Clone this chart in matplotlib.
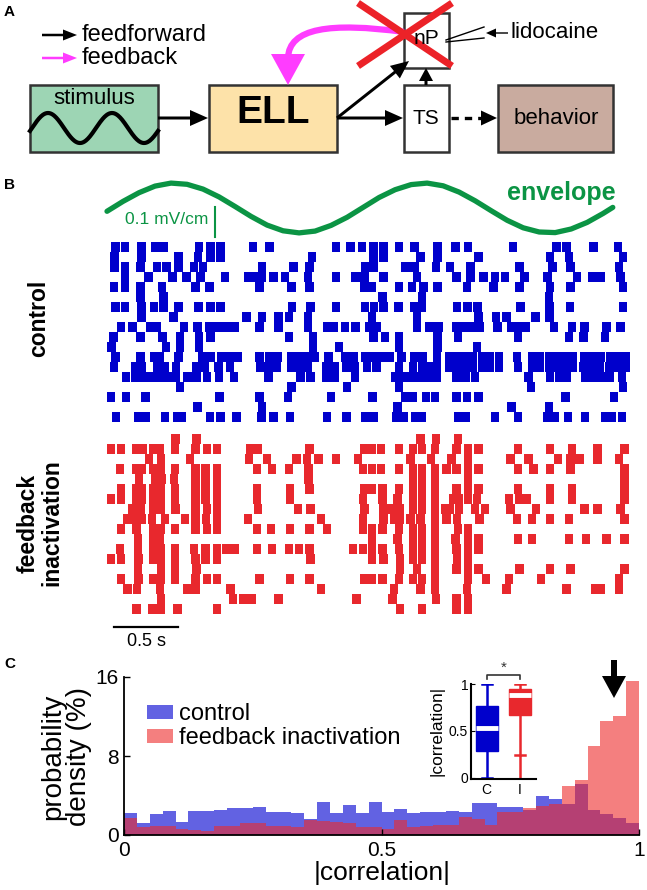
import matplotlib
matplotlib.use("Agg")
import matplotlib.pyplot as plt
from matplotlib.patches import Rectangle, FancyArrow, PathPatch
from matplotlib.path import Path
import numpy as np

plt.rcParams['font.family'] = ['Liberation Sans', 'DejaVu Sans']

# ---------------- data ----------------
# Panel B: spike times (s) per trial row
control_spikes = [
    [0.065, 0.14, 0.27, 0.38, 0.445, 0.72, 0.81, 0.885, 1.14, 1.27, 1.79, 1.90, 1.99, 2.08, 2.16, 2.28, 2.40, 2.58, 2.72, 2.82, 3.17, 3.51, 3.59, 3.80, 3.99],
    [0.057, 0.27, 0.56, 0.71, 0.81, 0.885, 1.60, 2.08, 2.16, 2.45, 2.58, 2.90, 3.46, 3.61, 4.03],
    [0.06, 0.14, 0.26, 0.39, 0.465, 0.56, 0.68, 0.75, 1.21, 1.455, 1.58, 2.02, 2.085, 2.33, 2.40, 2.57, 2.68, 2.84, 3.22, 3.48, 3.62, 4.00],
    [0.14, 0.325, 0.51, 0.62, 0.73, 0.92, 1.10, 1.15, 1.21, 1.30, 1.39, 1.57, 1.79, 1.94, 2.01, 2.16, 2.42, 2.73, 2.84, 2.94, 3.03, 3.11, 3.26, 3.44, 3.67, 3.79, 3.86, 4.01],
    [0.055, 0.14, 0.26, 0.43, 0.69, 0.80, 1.19, 1.44, 1.58, 2.01, 2.07, 2.28, 2.38, 2.47, 2.58, 2.81, 3.02, 3.22, 3.46, 3.62, 4.03],
    [0.26, 0.44, 2.15, 2.46, 3.45],
    [0.065, 0.14, 0.27, 0.365, 0.44, 0.56, 0.715, 0.81, 0.885, 1.445, 1.59, 1.79, 2.015, 2.085, 2.16, 2.275, 2.40, 2.46, 2.735, 2.815, 2.895, 3.23, 3.455, 3.615, 4.03],
    [0.27, 0.52, 1.09, 1.21, 1.34, 1.42, 1.57, 2.07, 2.42, 2.90, 3.04, 3.12, 3.345, 3.455],
    [0.11, 0.20, 0.34, 0.39, 0.60, 0.705, 0.80, 0.87, 0.935, 1.00, 1.19, 1.34, 1.57, 1.72, 1.77, 1.86, 1.94, 2.05, 2.11, 2.42, 2.52, 2.59, 2.73, 2.80, 2.86, 2.91, 3.05, 3.16, 3.21, 3.27, 3.49, 3.63, 3.73, 3.90, 4.01],
    [0.05, 0.26, 0.435, 0.57, 0.72, 0.81, 1.42, 1.61, 2.08, 2.17, 2.28, 2.58, 2.74, 3.21, 3.61, 3.72, 3.89],
    [0.035, 0.46, 0.57, 0.72, 1.61, 1.81, 2.28, 2.58, 2.89],
    [0.068, 0.26, 0.365, 0.41, 0.56, 0.74, 0.81, 0.89, 0.955, 1.025, 1.19, 1.27, 1.33, 1.44, 1.51, 1.57, 1.625, 1.73, 1.86, 1.925, 2.015, 2.08, 2.145, 2.205, 2.30, 2.40, 2.465, 2.575, 2.67, 2.73, 2.80, 2.86, 2.93, 2.99, 3.06, 3.20, 3.32, 3.38, 3.45, 3.51, 3.58, 3.64, 3.73, 3.80, 3.86, 3.93, 3.99, 4.05],
    [0.055, 0.22, 0.27, 0.39, 0.45, 0.54, 0.70, 0.765, 0.87, 0.96, 1.195, 1.26, 1.325, 1.44, 1.51, 1.57, 1.715, 1.78, 1.87, 1.935, 2.03, 2.105, 2.28, 2.39, 2.46, 2.52, 2.575, 2.67, 2.73, 2.80, 2.86, 2.93, 2.99, 3.06, 3.21, 3.32, 3.38, 3.45, 3.51, 3.58, 3.64, 3.72, 3.79, 3.85, 3.92, 3.98, 4.05],
    [0.15, 0.22, 0.285, 0.35, 0.415, 0.48, 0.54, 0.63, 0.70, 0.78, 0.875, 0.99, 1.26, 1.51, 1.59, 1.715, 1.78, 1.935, 2.25, 2.315, 2.38, 2.445, 2.51, 2.575, 2.73, 2.80, 2.875, 3.29, 3.46, 3.53, 3.59, 3.735, 3.80, 3.865, 3.93, 4.02],
    [0.57, 1.44, 1.875, 2.28, 3.31, 4.03],
    [0.03, 0.15, 0.30, 0.88, 1.19, 1.415, 1.75, 2.075, 2.33, 2.39, 2.49, 2.56, 2.73, 2.81, 2.90, 3.58, 3.96],
    [0.705, 1.21, 2.27, 3.16, 3.45],
    [0.07, 0.245, 0.30, 0.455, 0.545, 0.585, 0.805, 0.885, 1.01, 1.205, 1.30, 1.43, 1.72, 1.87, 2.015, 2.08, 2.26, 2.315, 2.405, 2.46, 2.74, 2.805, 3.03, 3.21, 3.435, 3.50, 3.60, 3.735, 3.89, 3.94, 4.02],
]
inactivation_spikes = [
    [0.535, 0.70, 2.45, 2.57, 2.74],
    [0.03, 0.11, 0.23, 0.28, 0.36, 0.41, 0.53, 0.69, 0.78, 0.86, 1.12, 1.18, 1.58, 2.01, 2.07, 2.14, 2.28, 2.39, 2.46, 2.56, 2.73, 2.82, 2.90, 3.21, 3.46, 3.63, 3.83, 4.04],
    [0.33, 0.42, 0.65, 1.11, 1.25, 1.48, 1.56, 1.65, 1.79, 1.96, 2.37, 2.53, 2.69, 2.82, 3.15, 3.29, 3.52, 3.62, 3.69, 3.83, 4.00],
    [0.10, 0.225, 0.27, 0.36, 0.42, 0.53, 0.69, 0.77, 0.86, 1.17, 1.29, 1.42, 1.575, 2.00, 2.07, 2.14, 2.28, 2.39, 2.46, 2.56, 2.65, 2.73, 2.82, 2.90, 3.21, 3.33, 3.46, 3.62, 4.04],
    [0.25, 0.375, 0.43, 0.525, 0.69, 0.77, 0.86, 1.575, 2.39, 2.46, 2.56, 2.82, 4.04],
    [0.11, 0.225, 0.27, 0.36, 0.42, 0.53, 0.69, 0.77, 0.86, 1.17, 1.43, 1.58, 2.01, 2.07, 2.15, 2.28, 2.39, 2.46, 2.56, 2.73, 2.82, 2.90, 3.21, 3.46, 3.63, 4.04],
    [0.03, 0.11, 0.225, 0.27, 0.36, 0.42, 0.53, 0.69, 0.77, 0.86, 1.17, 1.43, 2.00, 2.15, 2.27, 2.39, 2.46, 2.56, 2.70, 2.75, 2.82, 2.89, 3.14, 3.22, 3.28, 3.46, 3.63, 4.04],
    [0.20, 0.26, 0.36, 0.42, 0.535, 0.69, 0.78, 0.86, 1.18, 1.49, 1.59, 2.01, 2.16, 2.23, 2.29, 2.39, 2.46, 2.56, 2.64, 2.68, 2.75, 2.875, 2.95, 3.15, 3.35, 3.73, 3.83, 4.01],
    [0.155, 0.205, 0.27, 0.35, 0.455, 0.61, 0.69, 0.775, 0.86, 1.10, 1.67, 2.00, 2.16, 2.24, 2.29, 2.37, 2.45, 2.56, 2.65, 2.735, 2.91, 3.20, 3.32, 3.46, 3.61, 4.04],
    [0.11, 0.23, 0.36, 0.42, 0.53, 0.69, 0.78, 0.86, 1.17, 1.28, 1.43, 1.58, 1.72, 2.00, 2.07, 2.15, 2.28, 2.39, 2.46, 2.56, 2.74, 2.82],
    [0.24, 0.36, 0.41, 2.07, 2.27, 2.39, 2.46, 2.56, 2.72, 2.82, 2.90, 3.21, 3.32, 3.61, 3.74, 3.90, 4.04],
    [0.10, 0.24, 0.36, 0.42, 0.53, 0.68, 0.77, 0.86, 0.93, 0.995, 1.17, 1.29, 1.42, 1.50, 1.58, 1.92, 2.00, 2.07, 2.15, 2.28, 2.39, 2.46, 2.56, 2.73, 2.82, 2.90],
    [0.03, 0.11, 0.245, 0.36, 0.42, 0.53, 0.69, 0.77, 0.86, 1.59, 2.07, 2.16, 2.29, 2.39, 2.46, 2.56, 2.735, 2.82],
    [0.24, 0.42, 0.53, 0.70, 2.29, 2.42, 2.56, 2.73, 2.82, 2.90, 3.22, 3.46, 3.62, 4.04],
    [0.11, 0.245, 0.36, 0.42, 0.53, 0.69, 0.78, 0.86, 1.19, 1.43, 1.58, 2.01, 2.07, 2.15, 2.28, 2.39, 2.46, 2.56, 2.82, 2.96, 3.14, 3.39, 4.00],
    [0.16, 0.235, 0.415, 0.63, 0.69, 0.965, 1.67, 2.24, 2.45, 2.56, 2.81, 3.12, 3.59, 3.81, 3.86, 4.00],
    [0.42, 0.985, 1.065, 1.13, 1.34, 1.95, 2.23, 2.57, 2.73, 2.82],
    [0.23, 0.355, 0.42, 0.55, 0.86, 2.29, 2.46, 2.73, 2.82],
]
# stimulus envelope (mV/cm, relative) sampled in time (s)
env_t = [0, 0.125, 0.25, 0.375, 0.5, 0.625, 0.75, 0.875, 1.0, 1.125, 1.25, 1.375, 1.5, 1.625,
         1.75, 1.875, 2.0, 2.125, 2.25, 2.375, 2.5, 2.625, 2.75, 2.875, 3.0, 3.125, 3.25, 3.375,
         3.5, 3.625, 3.75, 3.875, 3.95]
env_v = [-0.011, 0.022, 0.051, 0.073, 0.083, 0.079, 0.063, 0.037, 0.005, -0.028, -0.057, -0.076,
         -0.083, -0.077, -0.058, -0.031, 0.002, 0.035, 0.061, 0.078, 0.083, 0.074, 0.053, 0.024,
         -0.009, -0.041, -0.066, -0.080, -0.082, -0.070, -0.048, -0.018, 0.002]

# Panel C: histogram of |correlation| (probability density, %), 40 bins on [0, 1]
control_density = [2.2, 1.25, 2.1, 2.4, 1.35, 2.4, 2.45, 2.5, 2.7, 2.7,
                   2.8, 2.35, 2.35, 2.2, 1.6, 3.3, 2.2, 3.05, 2.2, 3.35,
                   2.35, 2.6, 2.25, 2.35, 2.35, 2.45, 2.35, 3.2, 3.25, 2.85,
                   2.85, 2.5, 3.95, 3.6, 3.1, 5.15, 2.5, 2.1, 1.7, 1.2]
inactivation_density = [1.7, 0.85, 0.9, 0.9, 0.6, 0.55, 0.45, 0.9, 0.9, 1.2,
                        1.25, 0.9, 0.9, 0.85, 1.5, 1.45, 1.3, 1.25, 0.85, 0.85,
                        0.65, 1.5, 0.85, 0.9, 1.0, 1.0, 1.8, 1.6, 1.0, 2.35,
                        2.35, 2.75, 2.9, 3.1, 4.95, 5.55, 9.0, 11.5, 12.1, 15.6]
hist_labels = ['control', 'feedback inactivation']

# inset box plot
box_labels = ['C', 'I']
box_median = [0.53, 0.886]
box_q1 = [0.28, 0.664]
box_q3 = [0.77, 0.946]
box_whislo = [0.0, 0.24]
box_whishi = [1.0, 1.0]
inact_outlier_range = [0.0, 0.24]

# ---------------- styling ----------------
BLUE = '#0000cc'
RED = '#e8282d'
GREEN = '#0b9444'
HBLUE = '#6262e2'
HRED = '#ee2a2a'

W, H = 647, 890
fig = plt.figure(figsize=(W / 100, H / 100), dpi=100)


def rect(l, t, r, b):
    return [l / W, 1 - b / H, (r - l) / W, (b - t) / H]


# ---------------- Panel B ----------------
axr = fig.add_axes(rect(107, 240, 632, 650))
axr.set_xlim(0, 4.1)
axr.set_ylim(40.3, -0.7)
axr.axis('off')
spike_w = 0.066
for k, row in enumerate(control_spikes):
    axr.bar(row, 1.0, width=spike_w, bottom=k - 0.5, color=BLUE, linewidth=0)
for k, row in enumerate(inactivation_spikes):
    axr.bar(row, 1.0, width=spike_w, bottom=19.2 + k - 0.5, color=RED, linewidth=0)
axr.plot([0.055, 0.555], [38.0, 38.0], color='k', lw=1.6, clip_on=False)
axr.text(0.305, 39.4, '0.5 s', ha='center', va='center', fontsize=13)

axe = fig.add_axes(rect(107, 175, 632, 240))
axe.set_xlim(0, 4.1)
axe.set_ylim(-0.1067, 0.11)
axe.axis('off')
axe.plot(env_t, env_v, color=GREEN, lw=3.8, solid_capstyle='round', clip_on=False)
axe.plot([0.84, 0.84], [-0.097, 0.003], color=GREEN, lw=1.5)
axe.text(0.79, -0.04, '0.1 mV/cm', color=GREEN, ha='right', va='center', fontsize=12.5)
axe.text(3.97, 0.027, 'envelope', color=GREEN, ha='right', va='baseline',
         fontsize=18, fontweight='bold')

fig.text(39 / W, 1 - 318 / H, 'control', rotation=90, ha='center', va='center',
         fontsize=16.5, fontweight='bold')
fig.text(40 / W, 1 - 523 / H, 'feedback\ninactivation', rotation=90, ha='center',
         va='center', fontsize=16.5, fontweight='bold', linespacing=1.0)

# ---------------- Panel C ----------------
axh = fig.add_axes(rect(124, 677, 639, 835))
edges = np.linspace(0, 1, len(control_density) + 1)
axh.bar(edges[:-1], control_density, width=edges[1] - edges[0], align='edge',
        color=HBLUE, linewidth=0, label=hist_labels[0])
axh.bar(edges[:-1], inactivation_density, width=edges[1] - edges[0], align='edge',
        color=HRED, alpha=0.6, linewidth=0, label=hist_labels[1])
axh.set_xlim(0, 1)
axh.set_ylim(0, 16)
axh.set_xticks([0, 0.5, 1])
axh.set_xticklabels(['0', '0.5', '1'])
axh.set_yticks([0, 8, 16])
axh.set_yticklabels(['0', '8', '16'])
axh.tick_params(direction='in', length=4, labelsize=15, pad=4, width=1)
for s in ['top', 'right']:
    axh.spines[s].set_visible(False)
for s in ['left', 'bottom']:
    axh.spines[s].set_linewidth(1.3)
axh.legend(loc='upper left', bbox_to_anchor=(0.045, 0.835), frameon=False, fontsize=17,
           handlelength=1.1, handleheight=0.55, handletextpad=0.25, labelspacing=0.1,
           borderaxespad=0, borderpad=0)
fig.text(66 / W, 1 - 757 / H, 'probability\ndensity (%)', rotation=90, ha='center',
         va='center', fontsize=20, linespacing=0.95)
fig.text(382 / W, 1 - 873 / H, '|correlation|', ha='center', va='center', fontsize=19)

# inset
axi = fig.add_axes(rect(471, 684, 536, 779))
cols = [BLUE, RED]
for i in range(2):
    st = dict(med=box_median[i], q1=box_q1[i], q3=box_q3[i],
              whislo=box_whislo[i], whishi=box_whishi[i], fliers=[], label=box_labels[i])
    axi.bxp([st], positions=[i + 1], widths=0.66, patch_artist=True, showfliers=False,
            capwidths=0.3,
            boxprops=dict(facecolor=cols[i], edgecolor=cols[i], linewidth=1),
            medianprops=dict(color='white', linewidth=3.5),
            whiskerprops=dict(color=cols[i], linewidth=1.8),
            capprops=dict(color=cols[i], linewidth=1.8), manage_ticks=False)
axi.vlines(2, inact_outlier_range[0], inact_outlier_range[1], color=RED, lw=1.8)
axi.set_xlim(0.533, 2.478)
axi.set_ylim(-0.015, 1.0)
axi.set_xticks([1, 2])
axi.set_xticklabels(box_labels)
axi.set_yticks([0, 0.5, 1])
axi.set_yticklabels(['0', '0.5', '1'])
axi.tick_params(axis='y', direction='in', length=3, labelsize=10, pad=2)
axi.tick_params(axis='x', length=0, labelsize=10, pad=3)
for s in ['top', 'right']:
    axi.spines[s].set_visible(False)
for s in ['left', 'bottom']:
    axi.spines[s].set_linewidth(1.5)
axi.patch.set_alpha(0)
axi.plot([1, 1, 2, 2], [1.055, 1.095, 1.095, 1.055], color='#333333', lw=1.2, clip_on=False)
axi.text(1.5, 1.10, '*', ha='center', va='bottom', fontsize=11, color='#333333')
fig.text(437 / W, 1 - 731 / H, '|correlation|', rotation=90, ha='center', va='center',
         fontsize=12.5)

# ---------------- overlay: schematic + labels ----------------
ov = fig.add_axes([0, 0, 1, 1], zorder=10)
ov.set_xlim(0, W)
ov.set_ylim(H, 0)
ov.axis('off')
ov.patch.set_alpha(0)

for lab, y in [('A', 12), ('B', 185), ('C', 664)]:
    ov.text(4, y, lab, fontsize=11, fontweight='bold', ha='left', va='center')

EC = '#333333'
ov.add_patch(Rectangle((30, 85), 128, 67, fc='#9dd5b4', ec=EC, lw=1.8))
ov.add_patch(Rectangle((209, 85), 128, 67, fc='#fde2a9', ec=EC, lw=1.8))
ov.add_patch(Rectangle((404, 85), 45, 67, fc='white', ec=EC, lw=1.8))
ov.add_patch(Rectangle((404, 13), 45, 55, fc='white', ec=EC, lw=1.8))
ov.add_patch(Rectangle((498, 85), 115, 67, fc='#c9ab9f', ec=EC, lw=1.8))

xs = np.linspace(30, 158, 200)
ov.plot(xs, 128 - 15 * np.cos(2 * np.pi * (xs - 48) / 64), color='k', lw=3)

ov.text(94, 98, 'stimulus', ha='center', va='center', fontsize=16)
ov.text(273, 113, 'ELL', ha='center', va='center', fontsize=28, fontweight='bold')
ov.text(426, 119, 'TS', ha='center', va='center', fontsize=15)
ov.text(426, 38, 'nP', ha='center', va='center', fontsize=15)
ov.text(556, 119, 'behavior', ha='center', va='center', fontsize=16)


def arrow(x0, y0, x1, y1, w=3, hw=16, hl=18, c='k'):
    ov.add_patch(FancyArrow(x0, y0, x1 - x0, y1 - y0, width=w, head_width=hw, head_length=hl,
                            length_includes_head=True, color=c, lw=0))


arrow(158, 118, 208, 118)
arrow(337, 118, 403, 118)
arrow(337, 118, 409, 61)
arrow(426, 85, 426, 68, hl=13, hw=14)
ov.plot([451, 484], [118, 118], color='k', lw=2.4, ls=(0, (2.2, 1.8)))
arrow(480, 118, 497, 118, w=0, hw=15, hl=16)

# legend arrows
arrow(42, 35, 77, 35, w=2.5, hw=11, hl=14)
arrow(42, 58, 77, 58, w=2.5, hw=11, hl=14, c='#ff3cff')
ov.text(82, 35, 'feedforward', ha='left', va='center', fontsize=17)
ov.text(82, 58, 'feedback', ha='left', va='center', fontsize=17)

# feedback (magenta) curve
mag = Path([(404, 32), (330, 22), (289, 28), (288, 58)],
           [Path.MOVETO, Path.CURVE4, Path.CURVE4, Path.CURVE4])
ov.add_patch(PathPatch(mag, fill=False, ec='#ff3cff', lw=4.5, capstyle='butt'))
arrow(288, 55, 288, 85, w=0, hw=34, hl=31, c='#ff3cff')

# red X
ov.plot([358, 452], [3, 66], color='#ec2228', lw=5, solid_capstyle='butt')
ov.plot([358, 452], [66, 3], color='#ec2228', lw=5, solid_capstyle='butt')

# lidocaine
ov.text(511, 33, 'lidocaine', ha='left', va='center', fontsize=16)
arrow(508, 33, 486, 33, w=1.4, hw=9, hl=10)
ov.plot([484, 446], [27, 40], color='k', lw=1)
ov.plot([484, 446], [38, 42], color='k', lw=1)

# arrow in panel C
arrow(614, 660, 614, 698, w=6, hw=24, hl=22)

fig.savefig('out.png', dpi=100)
